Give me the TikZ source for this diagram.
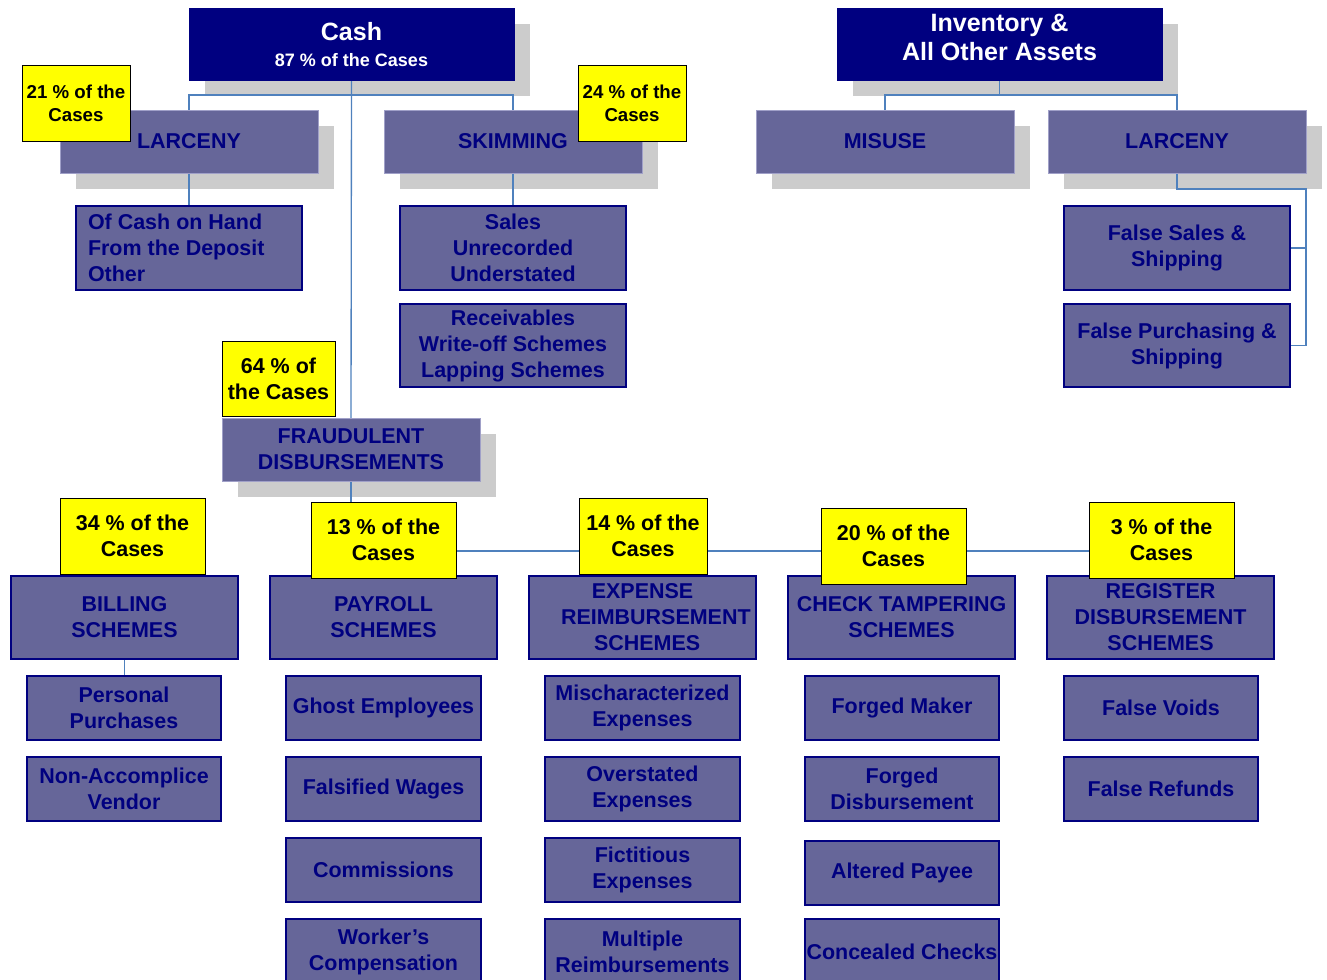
\documentclass[tikz,border=0pt]{standalone}
\usepackage{fontspec}
\setmainfont{Liberation Sans}
\definecolor{navy}{HTML}{000080}
\definecolor{purp}{HTML}{666699}
\definecolor{edgec}{HTML}{A0A0C8}
\definecolor{shadowgray}{HTML}{CCCCCC}
\definecolor{conncol}{HTML}{4F81BD}
\definecolor{yel}{HTML}{FFFF00}
\pgfdeclarelayer{shad}
\pgfdeclarelayer{lines}
\pgfdeclarelayer{front}
\pgfsetlayers{shad,lines,main,front}
\tikzset{
  rect/.style n args={4}{minimum width={(#3-#1)*0.75pt}, minimum height={(#4-#2)*0.75pt}, at={({(#1+#3)/2},{(#2+#4)/2})}},
  base/.style={inner sep=0pt, outer sep=0pt, align=center, font=\bfseries\fontsize{16.1}{19.5}\selectfont},
  topbox/.style={base, fill=purp, draw=edgec, line width=0.6pt, text=navy},
  navybox/.style={base, fill=navy, draw=navy, text=white},
  subbox/.style={base, fill=purp, draw=navy, line width=1.1pt, text=navy},
  note/.style={base, fill=yel, draw=black, line width=0.6pt, text=black},
  conn/.style={draw=conncol, line width=1pt},
  shadowfill/.style={fill=shadowgray}
}
\begin{document}
\begin{tikzpicture}[x=0.75pt,y=-0.75pt]
\useasboundingbox (0,0) rectangle (1327,980);
\clip (0,0) rectangle (1327,980);
% top level
\node[navybox, rect={189}{8}{514}{80}] (cash) {};
\node[base, text=white] (casht) at (351.5,45) {\fontsize{18.75}{19.5}\selectfont Cash\\\fontsize{13.5}{19.5}\selectfont 87 \% of the Cases};
\node[navybox, rect={837}{8}{1162}{80}] (inv) {};
\node[base, text=white, font=\bfseries\fontsize{18.8}{21.75}\selectfont] (invt) at (999.5,37) {Inventory \&\\All Other Assets};
\node[topbox, rect={60}{110}{318}{173}] (larc1) {LARCENY};
\node[topbox, rect={384}{110}{642}{173}] (skim) {SKIMMING};
\node[topbox, rect={756}{110}{1014}{173}] (mis) {MISUSE};
\node[topbox, rect={1048}{110}{1306}{173}] (larc2) {LARCENY};
\node[topbox, rect={222}{418}{480}{481}] (fraud) {FRAUDULENT\\DISBURSEMENTS};
% second level details
\node[subbox, rect={76}{206}{302}{290}] (ofcash) {};
\node[base, text=navy, align=left, anchor=west] (ofcasht) at (88,248) {Of Cash on Hand\\From the Deposit\\Other};
\node[subbox, rect={400}{206}{626}{290}] (sales) {Sales\\Unrecorded\\Understated};
\node[subbox, rect={400}{304}{626}{387}] (recv) {Receivables\\Write-off Schemes\\Lapping Schemes};
\node[subbox, rect={1064}{206}{1290}{290}] (fs) {False Sales \&\\Shipping};
\node[subbox, rect={1064}{304}{1290}{387}] (fp) {False Purchasing \&\\Shipping};
% scheme boxes
\node[subbox, rect={11}{576}{238}{659}] (bill) {BILLING\\SCHEMES};
\node[subbox, rect={270}{576}{497}{659}] (pay) {PAYROLL\\SCHEMES};
\node[subbox, rect={529}{576}{756}{659}] (exp) {EXPENSE\\\hspace*{20pt}REIMBURSEMENT\\\hspace*{7pt}SCHEMES};
\node[subbox, rect={788}{576}{1015}{659}] (chk) {CHECK TAMPERING\\SCHEMES};
\node[subbox, rect={1047}{576}{1274}{659}] (reg) {REGISTER\\DISBURSEMENT\\SCHEMES};
% column 1
\node[subbox, rect={27}{676}{221}{740}] (pers) {Personal\\Purchases};
\node[subbox, rect={27}{757}{221}{821}] (nonacc) {Non-Accomplice\\Vendor};
% column 2
\node[subbox, rect={286}{676}{481}{740}] (ghost) {Ghost Employees};
\node[subbox, rect={286}{757}{481}{821}] (wages) {Falsified Wages};
\node[subbox, rect={286}{838}{481}{902}] (comm) {Commissions};
\node[subbox, rect={286}{919}{481}{984}] (work) {Worker’s\\Compensation};
% column 3
\node[subbox, rect={545}{676}{740}{740}] (misch) {Mischaracterized\\Expenses};
\node[subbox, rect={545}{757}{740}{821}] (over) {Overstated\\Expenses};
\node[subbox, rect={545}{838}{740}{902}] (fict) {Fictitious\\Expenses};
\node[subbox, rect={545}{919}{740}{984}] (mult) {Multiple\\Reimbursements};
% column 4
\node[subbox, rect={805}{676}{999}{740}] (fmaker) {Forged Maker};
\node[subbox, rect={805}{757}{999}{821}] (fdisb) {Forged\\Disbursement};
\node[subbox, rect={805}{841}{999}{905}] (alt) {Altered Payee};
\node[subbox, rect={805}{919}{999}{984}] (conc) {Concealed Checks};
% column 5
\node[subbox, rect={1064}{676}{1258}{740}] (voids) {False Voids};
\node[subbox, rect={1064}{757}{1258}{821}] (refs) {False Refunds};
% percentage notes
\begin{pgfonlayer}{front}
\node[note, font=\bfseries\fontsize{14}{17.25}\selectfont, rect={22}{65}{130}{141}] (p21) {21 \% of the\\Cases};
\node[note, font=\bfseries\fontsize{14}{17.25}\selectfont, rect={578}{65}{686}{141}] (p24) {24 \% of the\\Cases};
\node[note, rect={222}{341}{335}{416}] (p64) {64 \% of\\the Cases};
\node[note, rect={60}{498}{205}{574}] (p34) {34 \% of the\\Cases};
\node[note, rect={311}{502}{456}{578}] (p13) {13 \% of the\\Cases};
\node[note, rect={579}{498}{707}{574}] (p14) {14 \% of the\\Cases};
\node[note, rect={821}{508}{966}{584}] (p20) {20 \% of the\\Cases};
\node[note, rect={1089}{502}{1234}{578}] (p3) {3 \% of the\\Cases};
\end{pgfonlayer}
% shadows
\begin{pgfonlayer}{shad}
\foreach \n in {cash,inv,larc1,skim,mis,larc2,fraud}{
  \fill[shadowfill] ([shift={(16,16)}]\n.south west) rectangle ([shift={(16,16)}]\n.north east);
}
\end{pgfonlayer}
% connectors
\begin{pgfonlayer}{lines}
\draw[conn] (cash.south) -- (fraud.north);
\draw[conn] (larc1.north) -- ++(0,-15) -| (skim.north);
\draw[conn] (larc1.south) -- (ofcash.north -| larc1.south);
\draw[conn] (skim.south) -- (sales.north -| skim.south);
\draw[conn] (inv.south) -- ++(0,15) coordinate (ib);
\draw[conn] (mis.north) |- (ib) -| (larc2.north);
\coordinate (rt) at (1306,189);
\draw[conn] (larc2.south) |- (rt) |- (fp.east);
\draw[conn] (fs.east) -- (fs.east -| rt);
\coordinate (busr) at (1160,551);
\draw[conn] (fraud.south) |- (busr);
\draw[conn] (bill.south) -- (pers.north -| bill.south);
\end{pgfonlayer}
\end{tikzpicture}
\end{document}
